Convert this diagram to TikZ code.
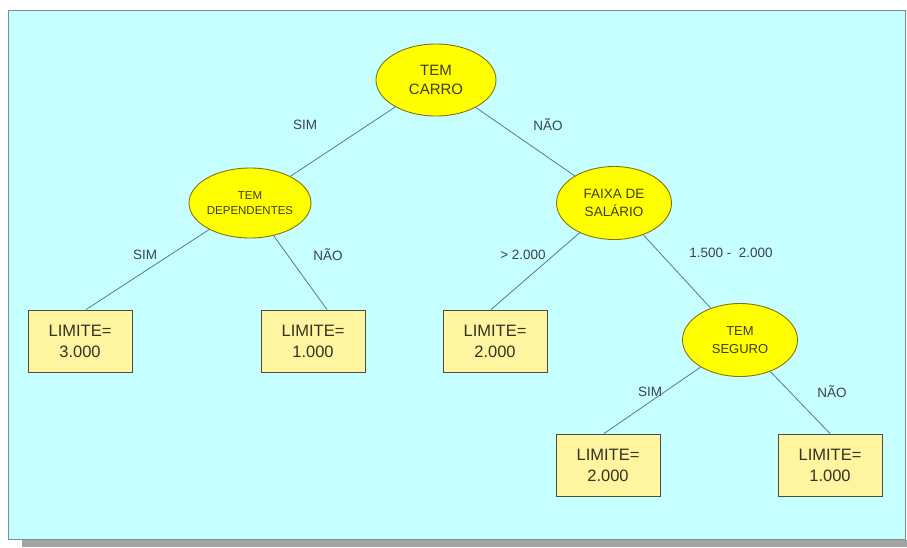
\documentclass[tikz,border=0pt]{standalone}
\usepackage{fontspec}
\setmainfont{Liberation Sans}
\usetikzlibrary{shapes.geometric}
\definecolor{panelfill}{HTML}{C6FFFF}
\definecolor{panelline}{HTML}{6F9494}
\definecolor{shadowgray}{HTML}{A3A3A3}
\definecolor{edgeblue}{HTML}{56789A}
\definecolor{testfill}{HTML}{FFFF00}
\definecolor{testline}{HTML}{857310}
\definecolor{testtext}{HTML}{3E3E14}
\definecolor{leaffill}{HTML}{FFF5A0}
\definecolor{leafline}{HTML}{4C4C3A}
\definecolor{leaftext}{HTML}{333322}
\definecolor{labeltext}{HTML}{3A444A}
\newcommand{\fs}[2]{\fontsize{#1}{#2}\selectfont}
\begin{document}
\begin{tikzpicture}[x=1pt,y=-1pt,
  test/.style={ellipse, draw=testline, line width=0.9pt, fill=testfill,
    inner sep=0pt, text=testtext, align=center},
  leaf/.style={rectangle, draw=leafline, line width=0.9pt, fill=leaffill,
    inner sep=0pt, minimum width=104pt, minimum height=62pt,
    text=leaftext, align=center, font=\fs{16.5}{21}},
  branch/.style={draw=edgeblue, line width=0.8pt},
  lbl/.style={text=labeltext, inner sep=0pt, font=\fs{13.5}{16}}]
  \useasboundingbox (0,0) rectangle (907,547);
  % backdrop with its drop shadow
  \fill[shadowgray] (22,540) rectangle (907,547);
  \draw[panelline, line width=1.2pt, fill=panelfill] (8.5,10.5) rectangle (905.5,539.5);

  % decision nodes
  \node[test, minimum width=120pt, minimum height=72pt, font=\fs{15}{19}]
    (carro) at (436,80) {TEM\\CARRO};
  \node[test, minimum width=115pt, minimum height=70pt, font=\fs{11.5}{15}]
    (dep) at (250,203) {TEM\\DEPENDENTES};
  \node[test, minimum width=115pt, minimum height=73pt, font=\fs{13.5}{18}]
    (faixa) at (614,203) {FAIXA DE\\SALÁRIO};
  \node[test, minimum width=115pt, minimum height=73pt, font=\fs{13}{18}]
    (seguro) at (740,340) {TEM\\SEGURO};

  % leaves
  \node[leaf] (l1) at (80,341) {LIMITE=\\3.000};
  \node[leaf] (l2) at (313,341) {LIMITE=\\1.000};
  \node[leaf] (l3) at (495,341) {LIMITE=\\2.000};
  \node[leaf] (l4) at (608,465) {LIMITE=\\2.000};
  \node[leaf] (l5) at (830,465) {LIMITE=\\1.000};

  % branches
  \draw[branch] (carro) -- (dep);
  \draw[branch] (carro) -- (faixa);
  \draw[branch] (dep) -- ([xshift=6pt]l1.north);
  \draw[branch] (dep) -- ([xshift=14pt]l2.north);
  \draw[branch] (faixa) -- ([xshift=-4pt]l3.north);
  \draw[branch] (faixa) -- (seguro);
  \draw[branch] (seguro) -- ([xshift=-4pt]l4.north);
  \draw[branch] (seguro) -- (l5.north);

  % branch labels
  \node[lbl] (s1) at (305,125) {SIM};
  \node[lbl] (n1) at (548,125) {NÃO};
  \node[lbl] (s2) at (145,255) {SIM};
  \node[lbl] (n2) at (328,255) {NÃO};
  \node[lbl] (g1) at (523,255) {> 2.000};
  \node[lbl] (r1) at (731,253) {1.500 -\ \ 2.000};
  \node[lbl] (s3) at (650,392) {SIM};
  \node[lbl] (n3) at (832,392) {NÃO};
\end{tikzpicture}
\end{document}
